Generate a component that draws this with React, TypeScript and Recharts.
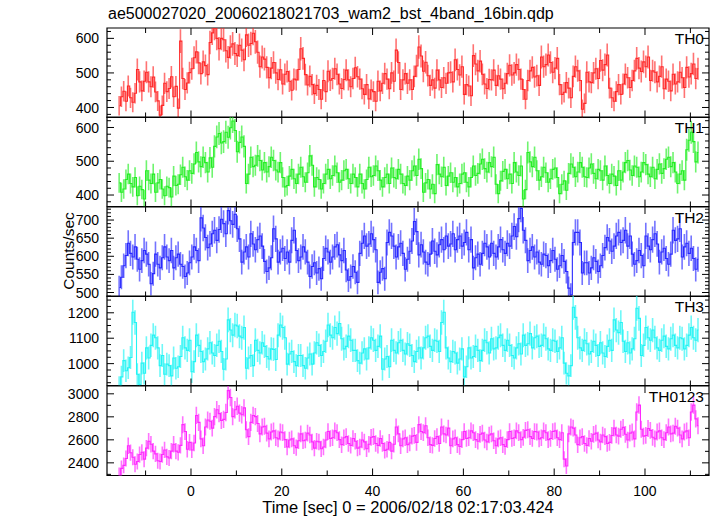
import React from "react";
import {
  ComposedChart,
  Line,
  Bar,
  XAxis,
  YAxis,
  ReferenceArea,
} from "recharts";

document.body.style.margin = "0";

const FONT = '"Liberation Sans", Arial, Helvetica, sans-serif';
const W = 717;
const H = 516;
const PLOT_LEFT = 107;
const PLOT_RIGHT = 709;
const PANEL_TOP = 27.5;
const PANEL_H = 89.5;
const LEFT_AXIS_W = 40;

// 0.5 s bins (16 x 1/32 s), first bin centre at -15.75 s
const BIN_START = -15.75;
const BIN_WIDTH = 0.5;
const X_DOMAIN: [number, number] = [-18.5, 114.1];

const xTicks = [-10, 0, 10, 20, 30, 40, 50, 60, 70, 80, 90, 100, 110];
const xLabels = [0, 20, 40, 60, 80, 100];

const th0 = [
  405, 431, 447, 418, 462, 428, 415, 441, 510, 474, 448, 476, 502, 474, 460, 488,
  445, 419, 378, 406, 470, 446, 455, 489, 431, 461, 398, 592, 484, 452, 471, 501,
  512, 544, 561, 529, 498, 532, 521, 495, 588, 616, 630, 600, 570, 600, 596, 564,
  545, 575, 584, 556, 550, 580, 566, 538, 610, 580, 585, 615, 590, 560, 518, 546,
  540, 516, 486, 514, 530, 500, 481, 509, 468, 496, 504, 476, 450, 482, 480, 510,
  570, 542, 495, 465, 490, 466, 440, 464, 452, 424, 478, 446, 505, 479, 484, 512,
  496, 468, 455, 481, 508, 480, 460, 484, 515, 489, 482, 454, 438, 466, 425, 451,
  446, 418, 476, 448, 470, 498, 482, 454, 500, 476, 566, 530, 452, 480, 498, 470,
  480, 452, 490, 520, 575, 549, 505, 531, 492, 464, 480, 456, 508, 480, 458, 486,
  470, 500, 502, 474, 538, 510, 494, 518, 438, 466, 462, 434, 550, 526, 506, 534,
  496, 468, 455, 481, 480, 508, 464, 492, 482, 454, 470, 498, 522, 494, 500, 524,
  510, 482, 452, 424, 478, 506, 516, 488, 492, 464, 546, 518, 524, 552, 530, 502,
  514, 542, 466, 438, 444, 472, 456, 428, 490, 518, 506, 478, 395, 412, 502, 474,
  472, 500, 512, 484, 536, 508, 524, 552, 456, 428, 418, 446, 466, 438, 468, 496,
  486, 458, 478, 506, 542, 514, 504, 532, 518, 546, 478, 506, 502, 474, 490, 518,
  454, 482, 476, 448, 496, 468, 474, 502, 486, 458, 516, 488, 498, 526, 484, 512,
];

const th1 = [
  436, 408, 418, 446, 462, 434, 424, 452, 398, 426, 416, 388, 472, 444, 434, 462,
  408, 436, 446, 418, 398, 426, 422, 394, 456, 428, 432, 460, 482, 454, 444, 472,
  464, 492, 526, 498, 484, 512, 496, 468, 510, 482, 544, 572, 582, 554, 558, 586,
  571, 599, 619, 591, 528, 556, 572, 544, 434, 462, 512, 484, 488, 516, 502, 474,
  496, 468, 484, 512, 502, 474, 468, 496, 452, 424, 428, 456, 476, 448, 434, 462,
  482, 454, 438, 466, 516, 488, 424, 452, 446, 418, 434, 462, 476, 448, 458, 486,
  466, 438, 444, 472, 476, 448, 434, 462, 452, 424, 462, 434, 418, 446, 482, 454,
  458, 486, 472, 444, 424, 452, 462, 434, 480, 452, 448, 476, 462, 434, 428, 456,
  444, 472, 486, 458, 506, 478, 408, 436, 446, 418, 432, 404, 490, 462, 454, 482,
  428, 456, 466, 438, 452, 424, 434, 462, 466, 438, 424, 452, 486, 458, 464, 492,
  506, 478, 468, 496, 484, 512, 432, 404, 442, 470, 476, 448, 462, 434, 496, 468,
  458, 486, 388, 416, 526, 498, 484, 512, 472, 444, 454, 482, 466, 438, 448, 476,
  480, 452, 404, 432, 442, 414, 464, 492, 482, 454, 468, 496, 482, 454, 452, 480,
  492, 464, 448, 476, 472, 444, 486, 458, 434, 462, 456, 428, 472, 444, 468, 496,
  502, 474, 458, 486, 482, 454, 468, 496, 490, 462, 454, 482, 448, 476, 492, 464,
  478, 506, 512, 484, 496, 468, 434, 462, 472, 444, 534, 562, 586, 558, 498, 526,
];

const th2 = [
  514, 542, 574, 602, 636, 608, 598, 626, 592, 564, 588, 616, 606, 578, 524, 552,
  606, 578, 568, 596, 626, 598, 588, 616, 568, 596, 606, 578, 572, 544, 554, 582,
  598, 626, 616, 588, 706, 678, 652, 624, 634, 662, 672, 644, 674, 702, 690, 662,
  726, 698, 688, 716, 676, 648, 584, 612, 626, 598, 662, 634, 618, 646, 656, 628,
  586, 558, 568, 596, 676, 648, 584, 612, 622, 594, 612, 584, 644, 672, 616, 588,
  598, 626, 612, 584, 544, 572, 582, 554, 566, 538, 594, 622, 612, 584, 598, 626,
  632, 604, 588, 616, 562, 534, 544, 572, 556, 528, 608, 636, 656, 628, 634, 662,
  646, 618, 528, 556, 566, 538, 638, 666, 656, 628, 598, 626, 636, 608, 564, 592,
  614, 642, 696, 668, 604, 632, 612, 584, 578, 606, 642, 614, 604, 632, 646, 618,
  656, 628, 634, 662, 618, 646, 656, 628, 638, 666, 618, 646, 568, 596, 606, 578,
  608, 636, 626, 598, 636, 608, 598, 626, 646, 618, 608, 636, 628, 656, 682, 654,
  704, 732, 672, 644, 588, 616, 626, 598, 612, 584, 578, 606, 602, 574, 588, 616,
  592, 564, 574, 602, 586, 558, 512, 494, 638, 666, 666, 638, 554, 582, 582, 554,
  568, 596, 586, 558, 574, 602, 624, 652, 642, 614, 628, 656, 666, 638, 644, 672,
  628, 656, 606, 578, 588, 616, 602, 574, 656, 628, 618, 646, 662, 634, 584, 612,
  622, 594, 578, 606, 672, 644, 648, 676, 598, 626, 636, 608, 622, 594, 564, 592,
];

const th3 = [
  908, 948, 1012, 972, 984, 1024, 1202, 1162, 958, 918, 1002, 962, 1062, 1022, 1072, 1112,
  1102, 1062, 992, 1032, 958, 998, 992, 952, 1022, 982, 988, 1028, 1102, 1062, 1052, 1092,
  968, 1008, 1112, 1072, 1048, 1008, 1018, 1058, 1082, 1042, 1032, 1072, 1088, 1048, 978, 1018,
  1172, 1132, 1112, 1152, 1148, 1108, 1102, 1142, 982, 1022, 1032, 992, 1092, 1052, 1042, 1082,
  1068, 1028, 1018, 1058, 1056, 1016, 1112, 1152, 1142, 1102, 998, 1038, 1048, 1008, 992, 1032,
  1032, 992, 982, 1022, 1038, 998, 1042, 1082, 1072, 1032, 1048, 1088, 1152, 1112, 1102, 1142,
  1118, 1158, 1098, 1058, 1068, 1108, 1092, 1052, 1052, 1012, 1002, 1042, 1058, 1018, 1062, 1102,
  1092, 1052, 1068, 1108, 978, 1018, 1028, 988, 1092, 1052, 1042, 1082, 1092, 1052, 1038, 1078,
  1072, 1032, 1008, 1048, 1062, 1022, 1062, 1102, 1108, 1068, 1052, 1092, 1088, 1048, 1162, 1202,
  1062, 1022, 1008, 1048, 1042, 1002, 1018, 1058, 948, 988, 1062, 1022, 1028, 1068, 1052, 1012,
  1052, 1092, 1082, 1042, 1098, 1058, 1062, 1102, 1112, 1072, 1052, 1092, 1072, 1032, 1022, 1062,
  1078, 1038, 1112, 1072, 1078, 1118, 1062, 1102, 1108, 1068, 1072, 1112, 1098, 1058, 1052, 1092,
  1088, 1048, 1062, 1102, 1002, 962, 952, 992, 1222, 1182, 1102, 1062, 1052, 1092, 1078, 1038,
  1048, 1088, 1072, 1032, 1082, 1042, 1028, 1068, 1092, 1052, 1172, 1132, 1122, 1162, 1088, 1048,
  1082, 1042, 1058, 1098, 1218, 1178, 1032, 1072, 1142, 1102, 1092, 1132, 1102, 1062, 1052, 1092,
  1108, 1068, 1058, 1098, 1112, 1072, 1062, 1102, 1098, 1058, 1072, 1112, 1142, 1102, 1092, 1132,
];

const th0123 = [
  2292, 2352, 2378, 2438, 2548, 2488, 2448, 2388, 2412, 2472, 2492, 2432, 2528, 2588, 2562, 2502,
  2478, 2418, 2412, 2472, 2512, 2452, 2442, 2502, 2562, 2502, 2492, 2552, 2732, 2672, 2518, 2578,
  2512, 2572, 2812, 2752, 2608, 2548, 2712, 2772, 2762, 2702, 2802, 2862, 2828, 2768, 2778, 2838,
  3028, 2968, 2802, 2862, 2892, 2832, 2818, 2878, 2688, 2628, 2752, 2812, 2802, 2742, 2652, 2712,
  2718, 2658, 2608, 2668, 2678, 2618, 2608, 2668, 2662, 2602, 2538, 2598, 2608, 2548, 2532, 2592,
  2652, 2592, 2598, 2658, 2642, 2582, 2528, 2588, 2582, 2522, 2538, 2598, 2672, 2612, 2618, 2678,
  2662, 2602, 2558, 2618, 2628, 2568, 2552, 2612, 2588, 2528, 2538, 2598, 2582, 2522, 2562, 2622,
  2628, 2568, 2552, 2612, 2568, 2508, 2518, 2578, 2502, 2562, 2712, 2652, 2548, 2608, 2618, 2558,
  2572, 2632, 2638, 2578, 2732, 2672, 2662, 2722, 2618, 2558, 2552, 2612, 2628, 2568, 2712, 2652,
  2642, 2702, 2548, 2608, 2618, 2558, 2542, 2602, 2672, 2612, 2618, 2678, 2662, 2602, 2588, 2648,
  2658, 2598, 2582, 2642, 2652, 2592, 2548, 2608, 2618, 2558, 2542, 2602, 2672, 2612, 2618, 2678,
  2662, 2602, 2622, 2682, 2688, 2628, 2612, 2672, 2668, 2608, 2618, 2678, 2662, 2602, 2612, 2672,
  2678, 2618, 2602, 2662, 2432, 2372, 2652, 2712, 2702, 2642, 2558, 2618, 2628, 2568, 2552, 2612,
  2588, 2648, 2658, 2598, 2582, 2642, 2628, 2568, 2578, 2638, 2702, 2642, 2632, 2692, 2708, 2648,
  2598, 2658, 2668, 2608, 2842, 2902, 2692, 2632, 2638, 2698, 2682, 2622, 2608, 2668, 2678, 2618,
  2602, 2662, 2712, 2652, 2658, 2718, 2702, 2642, 2608, 2668, 2678, 2618, 2842, 2902, 2782, 2722,
];

const th0Labels = [400, 500, 600];
const th1Labels = [400, 500, 600];
const th2Labels = [500, 550, 600, 650, 700];
const th3Labels = [1000, 1100, 1200];
const th0123Labels = [2400, 2600, 2800, 3000];

const panels = [
  { name: "TH0", values: th0, color: "#ff2828", domain: [371, 630], labels: th0Labels, minor: 20 },
  { name: "TH1", values: th1, color: "#22ee22", domain: [366, 631], labels: th1Labels, minor: 20 },
  { name: "TH2", values: th2, color: "#2828ff", domain: [489, 736], labels: th2Labels, minor: 10 },
  { name: "TH3", values: th3, color: "#22f4f4", domain: [914, 1266], labels: th3Labels, minor: 25 },
  { name: "TH0123", values: th0123, color: "#ff28ff", domain: [2290, 3068], labels: th0123Labels, minor: 100 },
];

function range(lo: number, hi: number, step: number) {
  const out: number[] = [];
  for (let v = Math.ceil(lo / step) * step; v <= hi; v += step) out.push(v);
  return out;
}

const TICK_FONT = 14;
const TEXT_FONT = 16;

function BottomTick(props: any) {
  const { x, y, payload, showLabels } = props;
  const v = payload.value;
  const labelled = xLabels.includes(v);
  return (
    <g>
      <line x1={x} y1={y} x2={x} y2={y - (labelled ? 7 : 5)} stroke="#000" />
      {showLabels && labelled && (
        <text x={x} y={y + 20} textAnchor="middle" fontSize={TICK_FONT} fill="#000" fontFamily={FONT}>
          {v}
        </text>
      )}
    </g>
  );
}

function TopTick(props: any) {
  const { x, y, payload } = props;
  const labelled = xLabels.includes(payload.value);
  return <line x1={x} y1={y} x2={x} y2={y + (labelled ? 7 : 5)} stroke="#000" />;
}

function LeftTick(props: any) {
  const { x, y, payload, labels } = props;
  const major = labels.includes(payload.value);
  return (
    <g>
      <line x1={x} y1={y} x2={x + (major ? 7 : 4)} y2={y} stroke="#000" />
      {major && (
        <text x={x - 8} y={y} dy="0.36em" textAnchor="end" fontSize={TICK_FONT} fill="#000" fontFamily={FONT}>
          {payload.value}
        </text>
      )}
    </g>
  );
}

function RightTick(props: any) {
  const { x, y, payload, labels } = props;
  const major = labels.includes(payload.value);
  return <line x1={x} y1={y} x2={x - (major ? 7 : 4)} y2={y} stroke="#000" />;
}

function Panel({ p, index, last }: { p: any; index: number; last: boolean }) {
  const top = PANEL_TOP + index * PANEL_H;
  const bottomH = last ? 42 : 1;
  const height = 1 + PANEL_H + bottomH;
  // Poisson error of each 0.5 s bin, drawn as a thin floating bar
  const rows = p.values.map((v: number, i: number) => {
    const err = Math.sqrt(v / BIN_WIDTH);
    return { t: BIN_START + i * BIN_WIDTH, v, range: [v - err, v + err] };
  });
  const yTicks = range(p.domain[0], p.domain[1], p.minor);

  return (
    <div style={{ position: "absolute", left: 0, top: top - 1 }}>
      <ComposedChart
        width={W}
        height={height}
        data={rows}
        margin={{ top: 0, right: 0, bottom: 0, left: PLOT_LEFT - LEFT_AXIS_W }}
      >
        <XAxis
          xAxisId="b"
          dataKey="t"
          type="number"
          domain={X_DOMAIN}
          allowDataOverflow
          ticks={xTicks}
          interval={0}
          tickSize={0}
          tickMargin={0}
          axisLine={false}
          tickLine={false}
          height={bottomH}
          tick={(tp: any) => <BottomTick {...tp} showLabels={last} />}
        />
        <XAxis
          xAxisId="t"
          orientation="top"
          dataKey="t"
          type="number"
          domain={X_DOMAIN}
          allowDataOverflow
          ticks={xTicks}
          interval={0}
          tickSize={0}
          tickMargin={0}
          axisLine={false}
          tickLine={false}
          height={1}
          tick={(tp: any) => <TopTick {...tp} />}
        />
        <YAxis
          yAxisId="l"
          type="number"
          domain={p.domain}
          allowDataOverflow
          ticks={yTicks}
          interval={0}
          tickSize={0}
          tickMargin={0}
          axisLine={false}
          tickLine={false}
          width={LEFT_AXIS_W}
          tick={(tp: any) => <LeftTick {...tp} labels={p.labels} />}
        />
        <YAxis
          yAxisId="r"
          orientation="right"
          type="number"
          domain={p.domain}
          allowDataOverflow
          ticks={yTicks}
          interval={0}
          tickSize={0}
          tickMargin={0}
          axisLine={false}
          tickLine={false}
          width={W - PLOT_RIGHT}
          tick={(tp: any) => <RightTick {...tp} labels={p.labels} />}
        />
        <Bar
          xAxisId="b"
          yAxisId="l"
          dataKey="range"
          barSize={1.6}
          fill={p.color}
          fillOpacity={0.65}
          isAnimationActive={false}
        />
        <Line
          xAxisId="b"
          yAxisId="l"
          dataKey="v"
          type="step"
          stroke={p.color}
          strokeWidth={1.1}
          dot={false}
          activeDot={false}
          isAnimationActive={false}
        />
        <ReferenceArea
          xAxisId="b"
          yAxisId="l"
          x1={X_DOMAIN[0]}
          x2={X_DOMAIN[1]}
          y1={p.domain[0]}
          y2={p.domain[1]}
          fill="none"
          stroke="#000"
          strokeWidth={1.2}
          ifOverflow="visible"
          label={{
            value: p.name,
            position: "insideTopRight",
            offset: 5,
            fontSize: 15.5,
            fill: "#000",
            fontFamily: FONT,
          }}
        />
      </ComposedChart>
    </div>
  );
}

export default function App() {
  return (
    <div
      style={{
        position: "relative",
        width: W,
        height: H,
        background: "#fff",
        fontFamily: FONT,
        color: "#000",
        overflow: "hidden",
      }}
    >
      {/* tick labels at panel edges spill past each chart's svg box */}
      <style>{`.recharts-surface { overflow: visible; }`}</style>
      <div
        style={{
          position: "absolute",
          left: 108,
          top: 6,
          fontSize: TEXT_FONT,
          lineHeight: `${TEXT_FONT}px`,
          whiteSpace: "nowrap",
        }}
      >
        ae500027020_20060218021703_wam2_bst_4band_16bin.qdp
      </div>
      {panels.map((p, i) => (
        <Panel key={p.name} p={p} index={i} last={i === panels.length - 1} />
      ))}
      <div
        style={{
          position: "absolute",
          left: 69,
          top: 251,
          fontSize: 15.5,
          lineHeight: "15.5px",
          whiteSpace: "nowrap",
          transform: "translate(-50%, -50%) rotate(-90deg)",
        }}
      >
        Counts/sec
      </div>
      <div
        style={{
          position: "absolute",
          left: (PLOT_LEFT + PLOT_RIGHT) / 2,
          top: 499,
          fontSize: 16.5,
          lineHeight: "16.5px",
          whiteSpace: "nowrap",
          transform: "translateX(-50%)",
        }}
      >
        Time [sec] 0 = 2006/02/18 02:17:03.424
      </div>
    </div>
  );
}
